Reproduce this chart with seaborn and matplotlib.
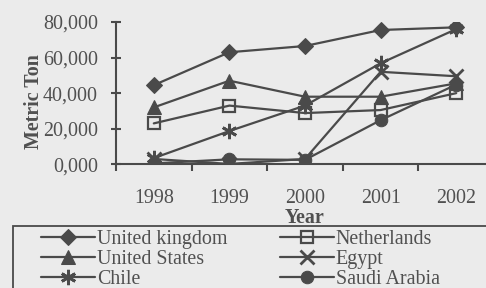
import matplotlib
matplotlib.use("Agg")
import matplotlib.pyplot as plt
import seaborn as sns
import pandas as pd
from matplotlib.patches import Rectangle

years = ["1998", "1999", "2000", "2001", "2002"]
uk = [44500, 63000, 66500, 75500, 77000]
netherlands = [23000, 33000, 28800, 30500, 40000]
us = [32000, 47000, 38000, 38000, 45500]
egypt = [3000, 200, 3000, 52000, 49500]
chile = [3500, 18700, 33000, 56800, 76000]
saudi = [500, 2800, 2500, 24800, 44800]
y_ticks = [0, 20000, 40000, 60000, 80000]
y_tick_labels = ["0,000", "20,000", "40,000", "60,000", "80,000"]

series = [
    ("United kingdom", uk, dict(marker="D", markersize=8)),
    ("United States", us, dict(marker="^", markersize=10)),
    ("Chile", chile, dict(marker=(6, 2, 0), markersize=11, markeredgewidth=2)),
    ("Netherlands", netherlands, dict(marker="s", markersize=9, markerfacecolor="none", markeredgewidth=1.6)),
    ("Egypt", egypt, dict(marker="x", markersize=10, markeredgewidth=2)),
    ("Saudi Arabia", saudi, dict(marker="o", markersize=9)),
]

bg = "#ebebeb"
ink = "#4a4a4a"
txt = "#505050"

sns.set_style("white")
plt.rcParams["font.family"] = ["Liberation Serif", "DejaVu Serif"]

fig = plt.figure(figsize=(4.86, 2.88), dpi=100, facecolor=bg)
ax = fig.add_axes([116 / 486, 1 - 164.3 / 288, 378 / 486, 142.3 / 288])
ax.set_facecolor(bg)

x = list(range(len(years)))
for name, vals, kw in series:
    df = pd.DataFrame({"x": x, "y": vals})
    sns.lineplot(data=df, x="x", y="y", ax=ax, color=ink, linewidth=1.6,
                 markeredgecolor=ink, label=name, **kw)

ax.set_xlim(-0.5, len(years) - 0.5)
ax.set_ylim(0, 80000)
ax.set_yticks(y_ticks)
ax.set_yticklabels(y_tick_labels)
ax.set_xticks(x)
ax.set_xticklabels(years)
ax.set_xticks([i - 0.5 for i in range(len(years) + 1)], minor=True)
ax.tick_params(axis="x", which="major", bottom=True, length=0, pad=18, labelsize=14.4, labelcolor=txt)
ax.tick_params(axis="x", which="minor", bottom=True, length=5, width=1.5, direction="out", color=ink)
ax.tick_params(axis="y", which="major", left=True, length=7, width=1.5, direction="inout", pad=9.5,
               labelsize=14.4, labelcolor=txt, color=ink)
for s in ["top", "right"]:
    ax.spines[s].set_visible(False)
for s in ["left", "bottom"]:
    ax.spines[s].set_color(ink)
    ax.spines[s].set_linewidth(1.5)

ax.set_xlabel("Year", fontsize=14.4, fontweight="bold", color=txt, labelpad=0)
ax.set_ylabel("Metric Ton", fontsize=14.4, fontweight="bold", color=txt)
ax.yaxis.set_label_coords(-0.19, 0.438)

handles, labels = ax.get_legend_handles_labels()
ax.get_legend().remove()
fig.legend(handles, labels, ncol=2, loc="upper left",
           bbox_to_anchor=(41 / 486, 1 - 230 / 288), frameon=False,
           fontsize=14.4, handlelength=2.7, handletextpad=0.1,
           labelspacing=0.06, columnspacing=2.6, borderpad=0, borderaxespad=0,
           labelcolor=txt)
fig.patches.append(Rectangle((13 / 486, -0.1), 1.0, 1 - 226 / 288 + 0.1,
                             transform=fig.transFigure, fill=False,
                             edgecolor=ink, linewidth=1.3))

fig.savefig("out.png", dpi=100, facecolor=bg)
